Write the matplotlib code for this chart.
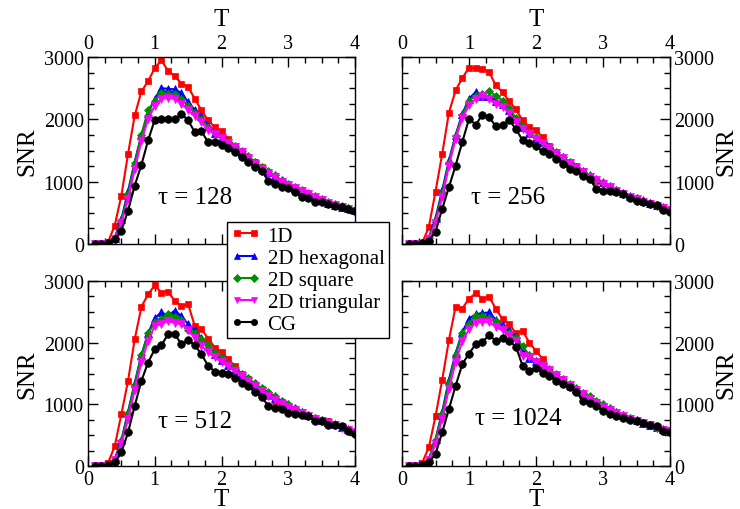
import numpy as np
import matplotlib
matplotlib.use("Agg")
import matplotlib.pyplot as plt
from matplotlib.ticker import MultipleLocator

plt.rcParams['font.family'] = ['Liberation Serif', 'DejaVu Serif']

T = [round(0.1 * i, 1) for i in range(1, 41)]

series_names = ["1D", "2D hexagonal", "2D square", "2D triangular", "CG"]
taus = ["128", "256", "512", "1024"]

# tau = 128
snr_128_1d = [0, 0, 30, 295, 777, 1446, 2062, 2448, 2609, 2823, 2946, 2775, 2695, 2571, 2518, 2330, 2143, 1982, 1875, 1805,
              1687, 1580, 1500, 1393, 1312, 1232, 1162, 1087, 1018, 964, 895, 857, 787, 750, 696, 643, 616, 589, 562, 536]
snr_128_hex = [0, 0, 10, 100, 400, 850, 1320, 1750, 2100, 2330, 2500, 2490, 2480, 2420, 2280, 2150, 2050, 1900, 1780, 1700,
               1620, 1560, 1480, 1390, 1300, 1220, 1150, 1080, 1000, 950, 900, 850, 800, 750, 700, 660, 630, 600, 570, 540]
snr_128_sq = [0, 0, 10, 90, 370, 800, 1300, 1750, 2150, 2300, 2430, 2410, 2400, 2320, 2220, 2100, 2000, 1880, 1790, 1720,
              1640, 1570, 1500, 1410, 1320, 1240, 1170, 1100, 1020, 970, 920, 870, 820, 770, 720, 680, 640, 610, 580, 550]
snr_128_tri = [0, 0, 5, 80, 330, 720, 1200, 1650, 2000, 2220, 2330, 2340, 2330, 2250, 2150, 2050, 1950, 1830, 1760, 1700,
               1620, 1550, 1470, 1380, 1290, 1210, 1140, 1070, 1000, 950, 900, 850, 800, 750, 700, 660, 620, 590, 560, 530]
snr_128_cg = [0, 0, 16, 80, 214, 536, 937, 1270, 1661, 1993, 2009, 2009, 1998, 2089, 1982, 1795, 1805, 1634, 1634, 1591,
              1537, 1473, 1393, 1323, 1232, 1178, 1018, 964, 911, 895, 830, 750, 734, 680, 670, 643, 616, 589, 562, 536]

# tau = 256
snr_256_1d = [0, 0, 16, 268, 841, 1446, 2105, 2464, 2662, 2829, 2823, 2812, 2759, 2545, 2437, 2287, 2159, 1982, 1875, 1821,
              1714, 1580, 1473, 1377, 1323, 1259, 1178, 1098, 1018, 980, 911, 841, 803, 750, 723, 680, 643, 605, 589, 552]
snr_256_hex = [0, 0, 10, 100, 420, 860, 1340, 1750, 2090, 2330, 2440, 2380, 2370, 2300, 2250, 2150, 2000, 1880, 1780, 1700,
               1630, 1560, 1480, 1400, 1320, 1240, 1170, 1100, 1040, 1000, 930, 870, 820, 770, 740, 700, 660, 620, 590, 560]
snr_256_sq = [0, 0, 10, 90, 380, 820, 1300, 1730, 2070, 2300, 2380, 2400, 2450, 2380, 2300, 2180, 2020, 1900, 1790, 1710,
              1640, 1560, 1480, 1390, 1310, 1230, 1160, 1090, 1030, 980, 920, 860, 810, 760, 730, 690, 650, 610, 580, 550]
snr_256_tri = [0, 0, 5, 80, 330, 750, 1250, 1690, 2020, 2230, 2330, 2370, 2330, 2240, 2200, 2100, 1960, 1850, 1760, 1690,
               1620, 1540, 1460, 1380, 1300, 1220, 1150, 1080, 1020, 970, 910, 850, 800, 760, 720, 680, 640, 610, 580, 540]
snr_256_cg = [0, 0, 11, 54, 198, 563, 911, 1259, 1634, 2009, 1914, 2073, 2036, 1891, 1912, 1982, 1848, 1661, 1623, 1570,
              1484, 1446, 1366, 1286, 1205, 1178, 1098, 1044, 884, 857, 857, 830, 803, 734, 696, 670, 643, 627, 552, 509]

# tau = 512
snr_512_1d = [0, 5, 49, 318, 842, 1381, 2056, 2580, 2784, 2930, 2811, 2827, 2676, 2595, 2622, 2271, 2218, 2067, 1921, 1851,
              1732, 1624, 1489, 1408, 1311, 1247, 1138, 1057, 1041, 977, 923, 869, 815, 772, 745, 734, 680, 653, 599, 556]
snr_512_hex = [0, 0, 10, 110, 420, 880, 1350, 1800, 2150, 2400, 2490, 2440, 2520, 2430, 2300, 2200, 2080, 1950, 1820, 1720,
               1640, 1560, 1480, 1400, 1320, 1240, 1170, 1100, 1040, 990, 930, 870, 820, 780, 740, 710, 680, 640, 600, 560]
snr_512_sq = [0, 0, 10, 100, 400, 860, 1320, 1800, 2150, 2330, 2380, 2470, 2410, 2360, 2200, 2150, 2060, 1960, 1850, 1750,
              1660, 1580, 1500, 1420, 1340, 1260, 1200, 1130, 1060, 1000, 940, 880, 830, 780, 740, 700, 670, 630, 590, 550]
snr_512_tri = [0, 0, 5, 90, 350, 760, 1230, 1680, 2030, 2270, 2300, 2350, 2320, 2300, 2200, 2080, 1950, 1850, 1760, 1690,
               1620, 1540, 1460, 1380, 1300, 1220, 1140, 1070, 1010, 960, 910, 860, 810, 770, 730, 700, 660, 620, 590, 550]
snr_512_cg = [0, 0, 16, 59, 221, 545, 977, 1381, 1678, 1894, 1959, 2137, 2137, 1975, 2045, 1959, 1813, 1624, 1532, 1516,
              1489, 1435, 1354, 1300, 1192, 1122, 977, 939, 923, 858, 842, 826, 804, 734, 723, 669, 664, 653, 572, 518]

# tau = 1024
snr_1024_1d = [0, 5, 49, 302, 804, 1397, 2040, 2584, 2552, 2714, 2800, 2714, 2746, 2551, 2380, 2299, 2153, 2191, 2002, 1867,
               1732, 1543, 1419, 1343, 1273, 1219, 1138, 1095, 1031, 977, 923, 858, 815, 772, 734, 691, 669, 626, 599, 583]
snr_1024_hex = [0, 0, 10, 110, 430, 880, 1400, 1830, 2170, 2390, 2460, 2480, 2490, 2370, 2280, 2200, 2100, 1870, 1750, 1700,
                1630, 1560, 1480, 1400, 1320, 1250, 1170, 1100, 1040, 990, 930, 870, 820, 780, 740, 700, 670, 630, 600, 560]
snr_1024_sq = [0, 0, 10, 100, 420, 850, 1350, 1800, 2150, 2310, 2440, 2430, 2400, 2350, 2230, 2150, 2080, 1940, 1800, 1700,
               1650, 1570, 1490, 1410, 1330, 1260, 1190, 1130, 1060, 1000, 940, 880, 830, 780, 740, 700, 660, 620, 570, 540]
snr_1024_tri = [0, 0, 5, 90, 350, 770, 1250, 1680, 2030, 2220, 2320, 2340, 2330, 2260, 2200, 2120, 2020, 1790, 1770, 1680,
                1620, 1550, 1470, 1390, 1310, 1230, 1160, 1080, 1020, 960, 910, 860, 810, 770, 730, 690, 660, 620, 590, 550]
snr_1024_cg = [0, 0, 11, 59, 194, 545, 923, 1300, 1651, 1824, 1975, 2013, 2121, 2029, 2072, 2029, 1937, 1624, 1543, 1597,
               1505, 1462, 1381, 1327, 1273, 1203, 1057, 1020, 977, 896, 842, 815, 772, 745, 734, 696, 669, 653, 572, 545]

panels = {
    "128": [snr_128_1d, snr_128_hex, snr_128_sq, snr_128_tri, snr_128_cg],
    "256": [snr_256_1d, snr_256_hex, snr_256_sq, snr_256_tri, snr_256_cg],
    "512": [snr_512_1d, snr_512_hex, snr_512_sq, snr_512_tri, snr_512_cg],
    "1024": [snr_1024_1d, snr_1024_hex, snr_1024_sq, snr_1024_tri, snr_1024_cg],
}

colors = ["#ff0000", "#0000ff", "#008c00", "#ff00ff", "#000000"]
markers = ["s", "^", "D", "v", "o"]
msizes = [5, 5.5, 4.5, 5.5, 5.5]

W, H = 740, 510
fig = plt.figure(figsize=(W / 100, H / 100), dpi=100)

def rect(l, t, r, b):
    return [l / W, 1 - b / H, (r - l) / W, (b - t) / H]

rects = {
    "128": rect(88, 58, 355, 245),
    "256": rect(402, 58, 670, 245),
    "512": rect(88, 282, 355, 467),
    "1024": rect(402, 282, 670, 467),
}
tau_pos = {"128": (1.6, 750), "256": (1.58, 750), "512": (1.6, 730), "1024": (1.73, 780)}

handles = None
for tau in taus:
    ax = fig.add_axes(rects[tau])
    hs = []
    for name, vals, c, m, ms in zip(series_names, panels[tau], colors, markers, msizes):
        h, = ax.plot(T, vals, color=c, marker=m, markersize=ms, linewidth=1.5,
                     markeredgewidth=0.5, markeredgecolor=c, label=name)
        hs.append(h)
    handles = hs
    ax.set_xlim(0, 4)
    ax.set_ylim(0, 3000)
    ax.xaxis.set_major_locator(MultipleLocator(1))
    ax.xaxis.set_minor_locator(MultipleLocator(0.25))
    ax.yaxis.set_major_locator(MultipleLocator(1000))
    ax.yaxis.set_minor_locator(MultipleLocator(250))
    top = tau in ("128", "256")
    right = tau in ("256", "1024")
    ax.tick_params(which='both', direction='in', top=True, bottom=True, left=True, right=True,
                   labeltop=top, labelbottom=not top, labelleft=not right, labelright=right,
                   labelsize=14.5, pad=3)
    ax.tick_params(which='major', length=7, width=1)
    ax.tick_params(which='minor', length=4, width=1)
    for s in ax.spines.values():
        s.set_linewidth(1)
    if top:
        ax.xaxis.set_label_position('top')
        ax.set_xlabel("T", fontsize=18, labelpad=6)
    else:
        ax.set_xlabel("T", fontsize=18, labelpad=-1)
    if right:
        ax.yaxis.set_label_position('right')
        ax.set_ylabel("SNR", fontsize=18, labelpad=1)
    else:
        ax.set_ylabel("SNR", fontsize=18, labelpad=4)
    ax.text(tau_pos[tau][0], tau_pos[tau][1], "τ = " + tau, fontsize=18,
            ha='center', va='center')

leg = fig.legend(handles=handles, labels=series_names, loc='upper left',
                 bbox_to_anchor=(227 / W, 1 - 223 / H), fontsize=15,
                 frameon=True, fancybox=False, edgecolor='black', framealpha=1,
                 numpoints=2, handlelength=1.4, handletextpad=0.35,
                 borderpad=0.2, labelspacing=0.12, borderaxespad=0)
leg.get_frame().set_linewidth(1)
for lh in leg.legend_handles:
    lh.set_markersize(4.5)

fig.savefig("out.png", dpi=100)
